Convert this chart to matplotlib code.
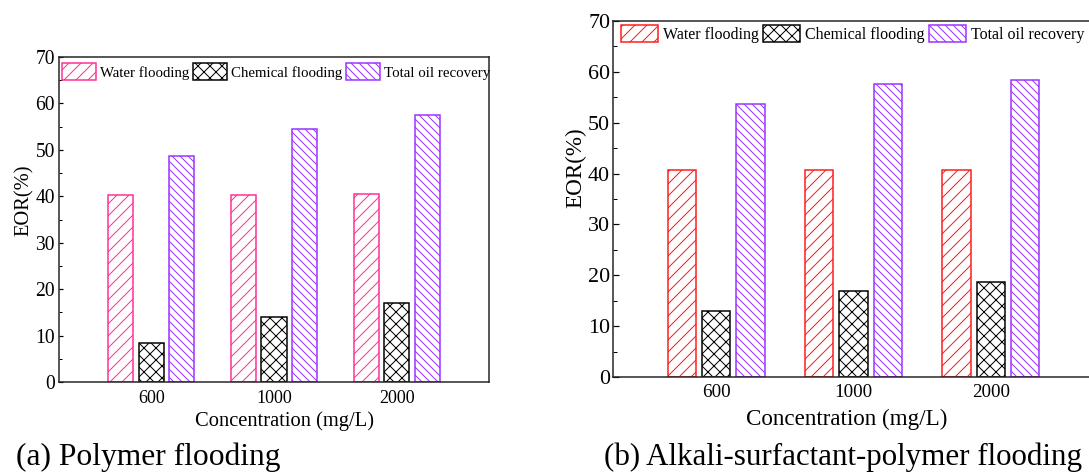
import numpy as np
import matplotlib
matplotlib.use("Agg")
import matplotlib.pyplot as plt
from matplotlib.ticker import MultipleLocator

# data
concentrations = ["600", "1000", "2000"]
series_names = ["Water flooding", "Chemical flooding", "Total oil recovery"]

# (a) polymer flooding
poly_water = [40.3, 40.3, 40.5]
poly_chem = [8.3, 13.9, 17.0]
poly_total = [48.6, 54.4, 57.6]

# (b) alkali-surfactant-polymer flooding
asp_water = [40.7, 40.8, 40.8]
asp_chem = [12.9, 16.9, 18.6]
asp_total = [53.6, 57.7, 58.4]

plt.rcParams['font.family'] = ['Liberation Serif', 'DejaVu Serif']
plt.rcParams['hatch.linewidth'] = 1.0

fig = plt.figure(figsize=(1089/72, 472/72), dpi=72)


def draw_panel(ax, water, chem, total, water_color):
    x = np.arange(1, len(concentrations) + 1)
    w = 0.205
    ax.bar(x - 0.25, water, w, facecolor='white', edgecolor=water_color,
           hatch='//', linewidth=1.5, label=series_names[0])
    ax.bar(x, chem, w, facecolor='white', edgecolor='black',
           hatch='xx', linewidth=1.5, label=series_names[1])
    ax.bar(x + 0.25, total, w, facecolor='white', edgecolor='#9B30FF',
           hatch='\\\\\\', linewidth=1.5, label=series_names[2])
    ax.set_xlim(0.25, 3.75)
    ax.set_ylim(0, 70)
    ax.set_xticks(x)
    ax.set_xticklabels(concentrations)
    ax.yaxis.set_major_locator(MultipleLocator(10))
    ax.yaxis.set_minor_locator(MultipleLocator(5))
    for s in ax.spines.values():
        s.set_linewidth(1.5)
        s.set_color('#222222')
    return ax


# left panel
ax1 = fig.add_axes([59/1089, 90/472, 430/1089, 325/472])
draw_panel(ax1, poly_water, poly_chem, poly_total, '#FF2D96')
ax1.tick_params(axis='y', direction='in', length=4, width=1.2, pad=4, labelsize=19.5)
ax1.tick_params(axis='y', which='minor', direction='in', length=2.5, width=1.0)
ax1.tick_params(axis='x', length=0, pad=8, labelsize=18)
ax1.set_xlabel("Concentration (mg/L)", fontsize=20.5)
ax1.xaxis.set_label_coords(0.524, -0.09)
ax1.set_ylabel("EOR(%)", fontsize=20.5)
ax1.yaxis.set_label_coords(-0.058, 0.56)
ax1.legend(loc='upper left', bbox_to_anchor=(0.006, 0.98), ncol=3,
           frameon=False, fontsize=14.9, handlelength=2.3, handleheight=1.3,
           handletextpad=0.27, columnspacing=0.25, borderpad=0, borderaxespad=0)

# right panel
ax2 = fig.add_axes([613/1089, 95/472, 481/1089, 356/472])
draw_panel(ax2, asp_water, asp_chem, asp_total, '#FF1A1A')
ax2.tick_params(axis='y', direction='in', length=5.5, width=1.2, pad=3, labelsize=22)
ax2.tick_params(axis='y', which='minor', direction='in', length=4, width=1.0)
ax2.tick_params(axis='x', length=0, pad=7, labelsize=19)
ax2.set_xlabel("Concentration (mg/L)", fontsize=23)
ax2.xaxis.set_label_coords(0.485, -0.089)
ax2.set_ylabel("EOR(%)", fontsize=23)
ax2.yaxis.set_label_coords(-0.056, 0.587)
ax2.legend(loc='upper left', bbox_to_anchor=(0.0166, 0.989), ncol=3,
           frameon=False, fontsize=16, handlelength=2.3, handleheight=1.28,
           handletextpad=0.3, columnspacing=0.3, borderpad=0, borderaxespad=0)

# panel captions
fig.text(16/1089, 1 - 465/472, "(a) Polymer flooding", fontsize=31.5, va='baseline')
fig.text(604/1089, 1 - 465/472, "(b) Alkali-surfactant-polymer flooding",
         fontsize=31, va='baseline')

fig.savefig("out.png", dpi=72)
